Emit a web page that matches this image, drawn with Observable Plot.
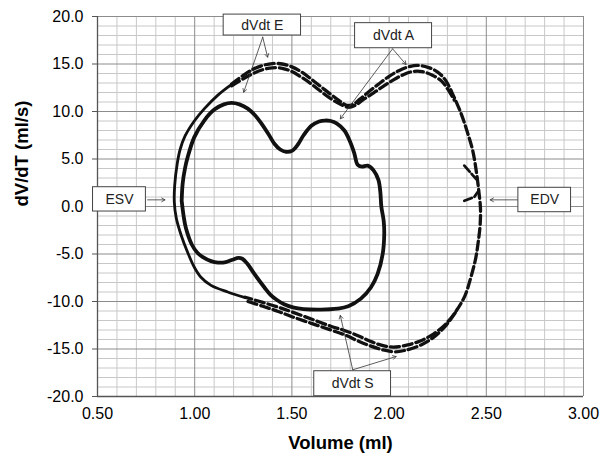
<!DOCTYPE html>
<html>
<head>
<meta charset="utf-8">
<script src="https://cdn.jsdelivr.net/npm/d3@7"></script>
<script src="https://cdn.jsdelivr.net/npm/@observablehq/plot@0.6"></script>
<style>
  html, body { margin: 0; padding: 0; background: #fff; }
  #chart { width: 601px; height: 456px; }
</style>
</head>
<body>
<div id="chart"></div>
<script>
// ---- tick labels ----
const xTicks = [0.5, 1.0, 1.5, 2.0, 2.5, 3.0];
const yTicks = [-20, -15, -10, -5, 0, 5, 10, 15, 20];

// ---- inner (solid) loop ----
const solidX = [0.933, 0.938, 0.950, 0.964, 0.998, 1.049, 1.101, 1.15, 1.19, 1.23, 1.273, 1.31, 1.341, 1.38, 1.41, 1.44, 1.47, 1.50, 1.53, 1.56, 1.60, 1.64, 1.67, 1.70, 1.73, 1.77, 1.80, 1.821, 1.838, 1.86, 1.89, 1.92, 1.945, 1.955, 1.96, 1.972, 1.975, 1.967, 1.941, 1.907, 1.855, 1.79, 1.735, 1.65, 1.56, 1.51, 1.46, 1.427, 1.39, 1.358, 1.307, 1.27, 1.245, 1.225, 1.195, 1.16, 1.12, 1.084, 1.04, 1.015, 0.985, 0.955, 0.943, 0.933];
const solidY = [0.6, 2.4, 4.0, 5.2, 7.3, 9.05, 10.2, 10.75, 10.9, 10.75, 10.3, 9.6, 8.8, 7.6, 6.6, 6.0, 5.75, 5.85, 6.5, 7.5, 8.5, 8.95, 9.05, 9.0, 8.75, 8.0, 6.8, 5.6, 4.4, 4.2, 4.3, 3.8, 2.8, 1.5, 0.0, -1.5, -2.9, -5.0, -7.1, -8.5, -9.7, -10.5, -10.75, -10.85, -10.8, -10.65, -10.3, -9.9, -9.3, -8.5, -7.1, -6.0, -5.5, -5.4, -5.6, -5.85, -5.9, -5.75, -5.3, -4.9, -4.0, -2.3, -1.0, 0.6];

// ---- outer (dashed) loop, trace 1 ----
const dash1X = [1.19, 1.25, 1.30, 1.35, 1.40, 1.45, 1.50, 1.55, 1.60, 1.65, 1.70, 1.75, 1.785, 1.815, 1.85, 1.90, 1.95, 2.00, 2.05, 2.10, 2.15, 2.20, 2.25, 2.29, 2.33, 2.37, 2.40, 2.43, 2.45, 2.462, 2.47, 2.468, 2.458, 2.445, 2.42, 2.39, 2.345, 2.29, 2.23, 2.16, 2.09, 2.02, 1.96, 1.90, 1.84, 1.77, 1.70, 1.60, 1.50, 1.43, 1.35, 1.26];
const dash1Y = [12.9, 13.8, 14.45, 14.85, 15.05, 15.0, 14.7, 14.15, 13.4, 12.6, 11.8, 11.05, 10.65, 10.75, 11.3, 12.15, 12.95, 13.7, 14.3, 14.7, 14.85, 14.65, 14.15, 13.3, 11.7, 9.8, 8.0, 5.9, 3.5, 1.5, -0.2, -2.0, -3.8, -5.5, -7.5, -9.4, -11.0, -12.4, -13.4, -14.15, -14.6, -14.8, -14.6, -14.15, -13.6, -13.05, -12.6, -11.85, -11.1, -10.6, -10.1, -9.55];

// ---- outer (dashed) loop, trace 2 (filling part and ejection part) ----
const dash2TopX = [1.19, 1.25, 1.30, 1.35, 1.40, 1.45, 1.50, 1.55, 1.60, 1.65, 1.70, 1.75, 1.79, 1.83, 1.87, 1.92, 1.97, 2.02, 2.07, 2.12, 2.17, 2.22, 2.27, 2.30, 2.335];
const dash2TopY = [12.7, 13.45, 14.0, 14.4, 14.6, 14.55, 14.2, 13.6, 12.9, 12.1, 11.35, 10.75, 10.45, 10.7, 11.3, 11.95, 12.65, 13.3, 13.85, 14.2, 14.2, 13.85, 13.2, 12.4, 11.2];
const dash2BotX = [2.34, 2.285, 2.22, 2.15, 2.08, 2.03, 1.97, 1.90, 1.84, 1.77, 1.70, 1.60, 1.50, 1.43, 1.35, 1.26];
const dash2BotY = [-11.2, -12.7, -13.9, -14.7, -15.15, -15.3, -15.1, -14.65, -14.15, -13.5, -13.0, -12.3, -11.6, -11.05, -10.5, -9.9];

// ---- outer loop, left branch near ESV ----
const leftX = [1.26, 1.17, 1.084, 1.032, 0.998, 0.965, 0.93, 0.905, 0.895, 0.897, 0.91, 0.925, 0.95, 0.998, 1.05, 1.118, 1.19];
const leftY = [-9.6, -9.0, -8.3, -7.45, -6.4, -4.9, -3.0, -1.2, 0.5, 2.2, 4.5, 6.0, 7.4, 9.0, 10.3, 11.7, 12.85];

// ---- small trace ends near EDV ----
const tailAX = [2.387, 2.43, 2.448];
const tailAY = [4.3, 3.3, 2.9];
const tailBX = [2.387, 2.438, 2.455];
const tailBY = [0.6, 1.0, 1.5];

// ---- annotation boxes ----
const boxText = ["dVdt E", "dVdt A", "ESV", "EDV", "dVdt S"];
const boxX1 = [1.149, 1.825, 0.477, 2.665, 1.615];
const boxX2 = [1.547, 2.221, 0.749, 2.936, 2.01];
const boxY1 = [20.2, 19.3, 2.03, 1.97, -17.34];
const boxY2 = [18.0, 16.66, -0.53, -0.6, -19.97];

// ---- annotation arrows ----
const arrX1 = [1.35, 1.35, 2.018, 2.018, 0.758, 2.662, 1.813, 1.813];
const arrY1 = [17.82, 17.82, 16.6, 16.6, 0.7, 0.7, -17.19, -17.19];
const arrX2 = [1.375, 1.252, 2.087, 1.749, 0.847, 2.52, 1.749, 2.036];
const arrY2 = [15.72, 12.03, 14.95, 9.23, 0.7, 0.7, -11.47, -15.79];

// ---- build tables ----
const pts = (xs, ys) => xs.map((x, i) => ({x, y: ys[i]}));
const solid = pts(solidX, solidY);
const dash1 = pts(dash1X, dash1Y);
const dash2Top = pts(dash2TopX, dash2TopY);
const dash2Bot = pts(dash2BotX, dash2BotY);
const left = pts(leftX, leftY);
const tails = [...pts(tailAX, tailAY).map(d => ({...d, g: "a"})), ...pts(tailBX, tailBY).map(d => ({...d, g: "b"}))];
const boxes = boxText.map((t, i) => ({t, x1: boxX1[i], x2: boxX2[i], y1: boxY1[i], y2: boxY2[i]}));
const arrows = arrX1.map((x1, i) => ({x1, y1: arrY1[i], x2: arrX2[i], y2: arrY2[i]}));

const minorX = d3.range(5, 31).map(v => v / 10).filter(v => Math.abs(v * 2 - Math.round(v * 2)) > 1e-9);
const minorY = d3.range(-20, 21).filter(v => v % 5 !== 0);

const FONT = "'Liberation Sans', Arial, Helvetica, sans-serif";

const chart = Plot.plot({
  width: 601,
  height: 456,
  marginLeft: 97,
  marginRight: 18,
  marginTop: 16,
  marginBottom: 60,
  x: {domain: [0.5, 3.0]},
  y: {domain: [-20, 20]},
  style: {fontFamily: FONT, background: "#fff", color: "#000", overflow: "visible"},
  marks: [
    Plot.ruleX(minorX, {stroke: "#c8c8c8", strokeWidth: 1}),
    Plot.ruleY(minorY, {stroke: "#c8c8c8", strokeWidth: 1}),
    Plot.ruleX(xTicks, {stroke: "#8c8c8c", strokeWidth: 1}),
    Plot.ruleY(yTicks, {stroke: "#8c8c8c", strokeWidth: 1}),
    Plot.ruleX([0.5], {stroke: "#555", strokeWidth: 1.3}),
    Plot.ruleY([-20], {stroke: "#555", strokeWidth: 1.3}),
    Plot.axisY({ticks: yTicks, tickFormat: d => d.toFixed(1), tickSize: 5, tickPadding: 9, fontSize: 16, stroke: "#555", label: null}),
    Plot.axisX({ticks: xTicks, tickFormat: d => d.toFixed(2), tickSize: 0, tickPadding: 11, fontSize: 16, label: null}),
    Plot.text(["Volume (ml)"], {frameAnchor: "bottom", dy: 47, fontSize: 18.5, fontWeight: "bold", lineAnchor: "middle"}),
    Plot.text(["dV/dT (ml/s)"], {frameAnchor: "left", dx: -75, rotate: -90, fontSize: 18.5, fontWeight: "bold", lineAnchor: "middle"}),
    // outer loop
    Plot.line(left, {x: "x", y: "y", stroke: "#111", strokeWidth: 2.8, curve: "catmull-rom"}),
    Plot.line(dash1, {x: "x", y: "y", stroke: "#111", strokeWidth: 3.3, strokeDasharray: "9,4", curve: "catmull-rom"}),
    Plot.line(dash2Top, {x: "x", y: "y", stroke: "#111", strokeWidth: 3.3, strokeDasharray: "9,4", curve: "catmull-rom"}),
    Plot.line(dash2Bot, {x: "x", y: "y", stroke: "#111", strokeWidth: 3.3, strokeDasharray: "9,4", curve: "catmull-rom"}),
    Plot.line(tails, {x: "x", y: "y", z: "g", stroke: "#111", strokeWidth: 2.8, strokeDasharray: "8,3"}),
    // inner loop
    Plot.line(solid, {x: "x", y: "y", stroke: "#111", strokeWidth: 3.8, curve: "catmull-rom"}),
    // annotations
    Plot.arrow(arrows, {x1: "x1", y1: "y1", x2: "x2", y2: "y2", stroke: "#333", strokeWidth: 0.8, headLength: 7, bend: false}),
    Plot.rect(boxes, {x1: "x1", x2: "x2", y1: "y1", y2: "y2", fill: "#fff", stroke: "#444", strokeWidth: 1}),
    Plot.text(boxes, {x: d => (d.x1 + d.x2) / 2, y: d => (d.y1 + d.y2) / 2, text: "t", fontSize: 14, fill: "#222", lineAnchor: "middle"})
  ]
});
document.getElementById("chart").appendChild(chart);
</script>
</body>
</html>
